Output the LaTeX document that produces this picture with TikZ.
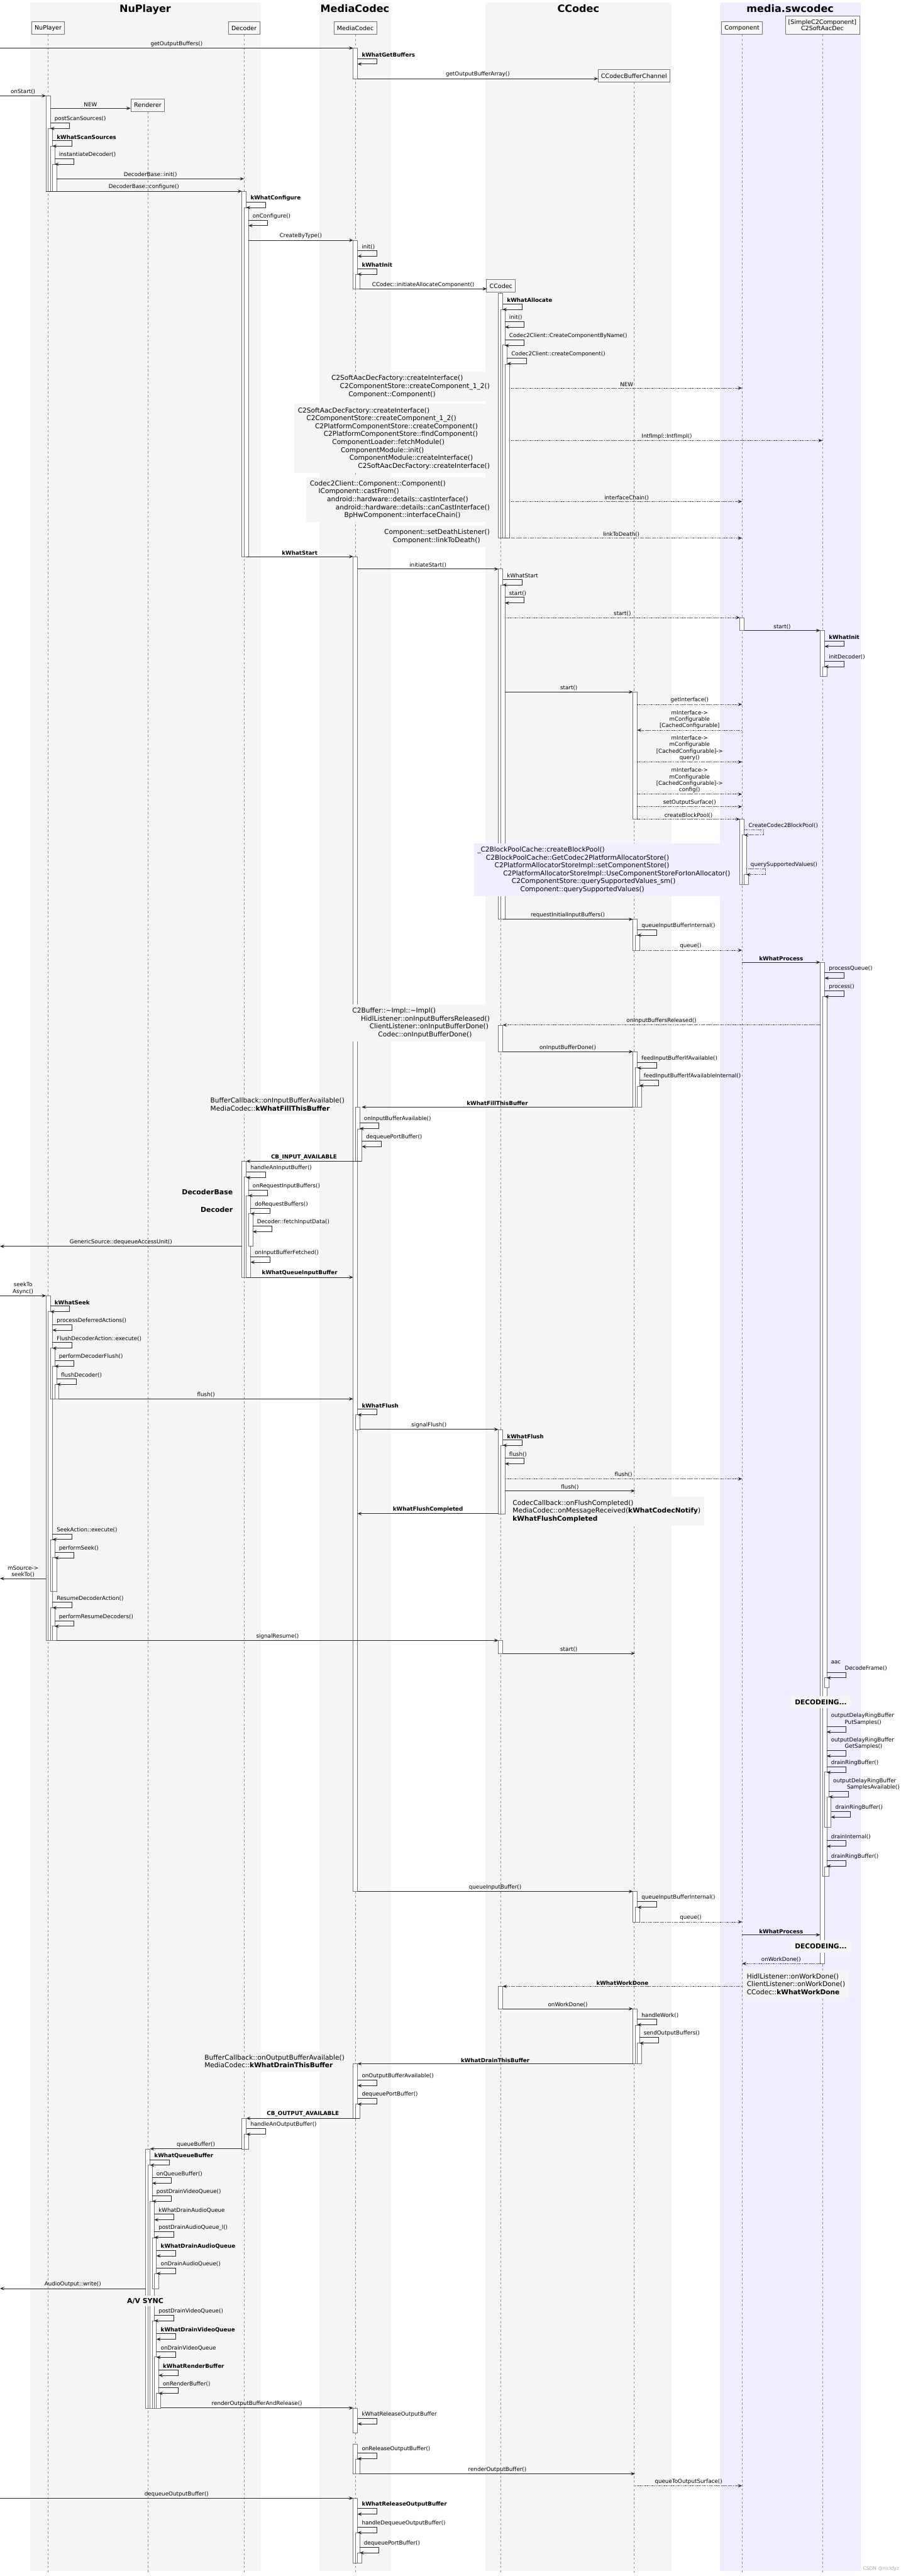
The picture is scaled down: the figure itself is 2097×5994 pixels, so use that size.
\documentclass[tikz,border=0pt]{standalone}
\usepackage{fontspec}
\setmainfont{DejaVu Sans}
\usetikzlibrary{arrows.meta,positioning,calc}
\definecolor{lanegray}{RGB}{245,245,245}
\definecolor{lanelav}{RGB}{238,238,255}
\definecolor{linegray}{RGB}{40,40,40}
\newcommand{\lblfont}{\fontsize{12.8}{15}\selectfont}
\newcommand{\notefont}{\fontsize{15.5}{18.5}\selectfont}
\newcommand{\lane}[3]{\fill[#1] (#2,6) rectangle (#3,5982);}
\newcommand{\actbar}[4]{\draw[actbox] ({#1-5+5*#2},#3) rectangle ({#1+5+5*#2},#4);}
\newcommand{\callmsg}[6][]{\coordinate (#2-a) at (#3,#5); \coordinate (#2-b) at (#4,#5);
  \draw[msg,#1] (#2-a) -- node[lbl]{#6} (#2-b);}
\newcommand{\selfmsg}[5][]{\coordinate (#2) at (#3,#4);
  \draw[msg,#1] (#2) -- ++(45,0) -- ++(0,13) -- ++(-45,0);
  \node[slbl] at (#2) {#5};}
\tikzset{
  lanetitle/.style={font=\fontsize{23.5}{28}\selectfont\bfseries, anchor=base, inner sep=0pt},
  head/.style={draw=black!55, fill=black!3, line width=1.1pt, font=\fontsize{14}{14.5}\selectfont, inner xsep=7pt, inner ysep=0pt, minimum height=29pt, align=center},
  lifeline/.style={draw=black!45, line width=1pt, dash pattern=on 5pt off 5pt},
  actbox/.style={draw=black!55, fill=white, line width=0.8pt},
  msg/.style={draw=linegray, line width=1.1pt, -{Stealth[length=10pt,width=8pt,inset=4pt]}},
  reply/.style={dash pattern=on 2pt off 2pt},
  lbl/.style={font=\lblfont, inner sep=0pt, above=2.8pt, align=center},
  slbl/.style={font=\lblfont, inner sep=0pt, anchor=south west, xshift=10pt, yshift=2.8pt, align=left},
  notebox/.style={fill=lanegray, font=\notefont, align=left, inner xsep=8pt, inner ysep=8pt},
  bigtag/.style={font=\fontsize{16}{19}\selectfont\bfseries, inner sep=0pt},
}
\begin{document}
\begin{tikzpicture}[x=1pt,y=-1pt]
\useasboundingbox (0,0) rectangle (2097,5994);
\lane{lanegray}{70}{607}
\lane{lanegray}{743}{910}
\lane{lanegray}{1130}{1563}
\lane{lanelav}{1675}{2003}
\node[lanetitle] (tnuplayer) at (338,28) {NuPlayer};
\node[lanetitle] (tmediacodec) at (826,28) {MediaCodec};
\node[lanetitle] (tccodec) at (1346,28) {CCodec};
\node[lanetitle] (tswcodec) at (1839,28) {media.swcodec};

\node[head] (nuplayer) at (112,65.5) {NuPlayer};
\node[head] (decoder) at (568,65.5) {Decoder};
\node[head] (mediacodec) at (827,65.5) {MediaCodec};
\node[head] (component) at (1727,65.5) {Component};
\node[head, minimum height=43pt] (aacdec) at (1914,58.5) {[SimpleC2Component]\\C2SoftAacDec};
\node[head] (renderer) at (344,244.5) {Renderer};
\node[head] (bufchannel) at (1475.5,176.5) {CCodecBufferChannel};
\node[head] (ccodec) at (1166,665.5) {CCodec};
\coordinate (foot) at (0,5987);
\draw[lifeline] (nuplayer.south) -- (nuplayer.south |- foot);
\draw[lifeline] (decoder.south) -- (decoder.south |- foot);
\draw[lifeline] (mediacodec.south) -- (mediacodec.south |- foot);
\draw[lifeline] (component.south) -- (component.south |- foot);
\draw[lifeline] (aacdec.south) -- (aacdec.south |- foot);
\draw[lifeline] (renderer.south) -- (renderer.south |- foot);
\draw[lifeline] (bufchannel.south) -- (bufchannel.south |- foot);
\draw[lifeline] (ccodec.south) -- (ccodec.south |- foot);

\actbar{112}{0}{223}{445} \actbar{112}{1}{299}{445} \actbar{112}{2}{340}{445} \actbar{112}{3}{382}{445}
\actbar{112}{0}{3015}{3817} \actbar{112}{1}{3052}{3817} \actbar{112}{2}{3137}{3255} \actbar{112}{3}{3179}{3255} \actbar{112}{4}{3221}{3255}
\actbar{112}{2}{3582}{3703} \actbar{112}{3}{3624}{3703} \actbar{112}{2}{3741}{3817} \actbar{112}{3}{3783}{3817}
\actbar{344}{0}{5000}{5603} \actbar{344}{1}{5038}{5603} \actbar{344}{2}{5122}{5603} \actbar{344}{3}{5207}{5325} \actbar{344}{4}{5291}{5325}
\actbar{344}{3}{5400}{5603} \actbar{344}{4}{5484}{5603} \actbar{344}{5}{5569}{5603}
\actbar{568}{0}{445}{1295} \actbar{568}{1}{483}{1295}
\actbar{568}{0}{2702}{2972} \actbar{568}{1}{2739}{2972} \actbar{568}{2}{2782}{2972} \actbar{568}{3}{2823}{2900}
\actbar{568}{0}{4929}{5000} \actbar{568}{1}{4966}{5000}
\actbar{827}{0}{112}{183}
\actbar{827}{0}{559}{672} \actbar{827}{1}{638}{672}
\actbar{827}{0}{1295}{4401} \actbar{827}{1}{2576}{2702} \actbar{827}{2}{2627}{2702} \actbar{827}{1}{3292}{3326}
\actbar{827}{0}{4802}{4929} \actbar{827}{1}{4896}{4929}
\actbar{827}{0}{5603}{5660} \actbar{827}{0}{5687}{5756} \actbar{827}{1}{5722}{5756}
\actbar{827}{0}{5813}{5963} \actbar{827}{1}{5893}{5963} \actbar{827}{2}{5940}{5963}
\actbar{1165}{0}{683}{1252} \actbar{1165}{1}{720}{1252} \actbar{1165}{2}{803}{1252} \actbar{1165}{3}{847}{1252}
\actbar{1165}{0}{1324}{2139} \actbar{1165}{1}{1362}{2139}
\actbar{1165}{0}{2385}{2447}
\actbar{1165}{0}{3326}{3522} \actbar{1165}{1}{3363}{3522}
\actbar{1165}{0}{3817}{3847}
\actbar{1165}{0}{4622}{4674}
\actbar{1478}{0}{1610}{1906}
\actbar{1478}{0}{2139}{2211} \actbar{1478}{1}{2177}{2211}
\actbar{1478}{0}{2447}{2576} \actbar{1478}{1}{2484}{2576} \actbar{1478}{2}{2527}{2576}
\actbar{1478}{0}{4401}{4472} \actbar{1478}{1}{4438}{4472}
\actbar{1478}{0}{4674}{4802} \actbar{1478}{1}{4712}{4802} \actbar{1478}{2}{4754}{4802}
\actbar{1727}{0}{1437}{1467}
\actbar{1727}{0}{1906}{2058} \actbar{1727}{1}{1943}{2058} \actbar{1727}{2}{2035}{2058}
\actbar{1914}{0}{1467}{1574} \actbar{1914}{1}{1551}{1574}
\actbar{1914}{0}{2239}{4569} \actbar{1914}{1}{2319}{4365} \actbar{1914}{2}{3903}{3927}
\actbar{1914}{2}{4123}{4251} \actbar{1914}{3}{4181}{4251} \actbar{1914}{2}{4343}{4365}

\node[notebox, anchor=north east] (n1) at (1148,865) {C2SoftAacDecFactory::createInterface()\\\hspace*{20pt}C2ComponentStore::createComponent\_1\_2()\\\hspace*{40pt}Component::Component()};
\node[notebox, anchor=north east] (n2) at (1148,940) {C2SoftAacDecFactory::createInterface()\\\hspace*{20pt}C2ComponentStore::createComponent\_1\_2()\\\hspace*{40pt}C2PlatformComponentStore::createComponent()\\\hspace*{60pt}C2PlatformComponentStore::findComponent()\\\hspace*{80pt}ComponentLoader::fetchModule()\\\hspace*{100pt}ComponentModule::init()\\\hspace*{120pt}ComponentModule::createInterface()\\\hspace*{140pt}C2SoftAacDecFactory::createInterface()};
\node[notebox, anchor=north east] (n3) at (1148,1110) {Codec2Client::Component::Component()\\\hspace*{20pt}IComponent::castFrom()\\\hspace*{40pt}android::hardware::details::castInterface()\\\hspace*{60pt}android::hardware::details::canCastInterface()\\\hspace*{80pt}BpHwComponent::interfaceChain()};
\node[notebox, anchor=north east] (n4) at (1148,1223) {Component::setDeathListener()\\\hspace*{20pt}Component::linkToDeath()};
\node[notebox, fill=lanelav, anchor=north east] (n5) at (1708,1962) {\_C2BlockPoolCache::createBlockPool()\\\hspace*{20pt}C2BlockPoolCache::GetCodec2PlatformAllocatorStore()\\\hspace*{40pt}C2PlatformAllocatorStoreImpl::setComponentStore()\\\hspace*{60pt}C2PlatformAllocatorStoreImpl::UseComponentStoreForIonAllocator()\\\hspace*{80pt}C2ComponentStore::querySupportedValues\_sm()\\\hspace*{100pt}Component::querySupportedValues()};
\node[notebox, anchor=north east] (n6) at (1148,2337) {C2Buffer::\textasciitilde{}Impl::\textasciitilde{}Impl()\\\hspace*{20pt}HidlListener::onInputBuffersReleased()\\\hspace*{40pt}ClientListener::onInputBufferDone()\\\hspace*{60pt}Codec::onInputBufferDone()};
\node[notebox, anchor=north east] (n7) at (810,2546) {BufferCallback::onInputBufferAvailable()\\MediaCodec::\textbf{kWhatFillThisBuffer}};
\node[notebox, anchor=north west] (n8) at (1185,3482) {CodecCallback::onFlushCompleted()\\MediaCodec::onMessageReceived(\textbf{kWhatCodecNotify})\\\textbf{kWhatFlushCompleted}};
\node[notebox, anchor=north west] (n9) at (1730,4584) {HidlListener::onWorkDone()\\ClientListener::onWorkDone()\\CCodec::\textbf{kWhatWorkDone}};
\node[notebox, anchor=north east] (n10) at (810,4773) {BufferCallback::onOutputBufferAvailable()\\MediaCodec::\textbf{kWhatDrainThisBuffer}};

\callmsg{m01}{0}{822}{112}{getOutputBuffers()}
\callmsg{m02}{832}{1392}{183}{getOutputBufferArray()}
\callmsg{m03}{0}{107}{223}{onStart()}
\callmsg{m04}{117}{304}{252}{NEW}
\callmsg{m05}{132}{568}{416}{DecoderBase::init()}
\callmsg{m06}{107}{563}{445}{DecoderBase::configure()}
\callmsg{m07}{578}{822}{559}{CreateByType()}
\callmsg{m08}{837}{1133}{672}{CCodec::initiateAllocateComponent()}
\callmsg[reply]{m09}{1190}{1727}{903}{NEW}
\callmsg[reply]{m10}{1190}{1914}{1025}{IntfImpl::IntfImpl()}
\callmsg[reply]{m11}{1190}{1727}{1167}{interfaceChain()}
\callmsg[reply]{m12}{1165}{1727}{1252}{linkToDeath()}
\callmsg{m13}{573}{822}{1295}{\textbf{kWhatStart}}
\callmsg{m14}{832}{1160}{1324}{initiateStart()}
\callmsg[reply]{m15}{1175}{1722}{1437}{start()}
\callmsg{m16}{1732}{1909}{1467}{start()}
\callmsg{m17}{1175}{1473}{1610}{start()}
\callmsg[reply]{m18}{1483}{1727}{1639}{getInterface()}
\callmsg[reply]{m19}{1727}{1483}{1699}{mInterface->\\mConfigurable\\{}[CachedConfigurable]}
\callmsg[reply]{m20}{1483}{1727}{1773}{mInterface->\\mConfigurable\\{}[CachedConfigurable]->\\query()}
\callmsg[reply]{m21}{1483}{1727}{1848}{mInterface->\\mConfigurable\\{}[CachedConfigurable]->\\config()}
\callmsg[reply]{m22}{1483}{1727}{1877}{setOutputSurface()}
\callmsg[reply]{m23}{1483}{1722}{1906}{createBlockPool()}
\callmsg{m24}{1170}{1473}{2139}{requestInitialInputBuffers()}
\callmsg[reply]{m25}{1488}{1727}{2211}{queue()}
\callmsg{m26}{1727}{1909}{2239}{\textbf{kWhatProcess}}
\callmsg[reply]{m27}{1909}{1170}{2385}{onInputBuffersReleased()}
\callmsg{m28}{1170}{1473}{2447}{onInputBufferDone()}
\callmsg{m29}{1473}{842}{2576}{\textbf{kWhatFillThisBuffer}}
\callmsg{m30}{842}{573}{2702}{\textbf{CB\_INPUT\_AVAILABLE}}
\callmsg{m31}{563}{0}{2900}{GenericSource::dequeueAccessUnit()}
\callmsg{m32}{573}{822}{2972}{\textbf{kWhatQueueInputBuffer}}
\callmsg{m33}{0}{107}{3015}{seekTo\\Async()}
\callmsg{m34}{137}{822}{3255}{flush()}
\callmsg{m35}{837}{1160}{3326}{signalFlush()}
\callmsg[reply]{m36}{1175}{1727}{3441}{flush()}
\callmsg{m37}{1175}{1478}{3469}{flush()}
\callmsg{m38}{1160}{832}{3522}{\textbf{kWhatFlushCompleted}}
\callmsg{m39}{107}{0}{3673}{mSource->\\seekTo()}
\callmsg{m40}{132}{1160}{3817}{signalResume()}
\callmsg{m41}{1170}{1478}{3847}{start()}
\callmsg{m42}{832}{1473}{4401}{queueInputBuffer()}
\callmsg[reply]{m43}{1488}{1727}{4472}{queue()}
\callmsg{m44}{1727}{1909}{4502}{\textbf{kWhatProcess}}
\callmsg[reply]{m45}{1909}{1727}{4569}{onWorkDone()}
\callmsg[reply]{m46}{1727}{1170}{4622}{\textbf{kWhatWorkDone}}
\callmsg{m47}{1170}{1473}{4674}{onWorkDone()}
\callmsg{m48}{1473}{832}{4802}{\textbf{kWhatDrainThisBuffer}}
\callmsg{m49}{837}{573}{4929}{\textbf{CB\_OUTPUT\_AVAILABLE}}
\callmsg{m50}{563}{349}{5000}{queueBuffer()}
\callmsg{m51}{339}{0}{5325}{AudioOutput::write()}
\callmsg{m52}{374}{822}{5603}{renderOutputBufferAndRelease()}
\callmsg{m53}{837}{1478}{5756}{renderOutputBuffer()}
\callmsg[reply]{m54}{1478}{1727}{5784}{queueToOutputSurface()}
\callmsg{m55}{0}{822}{5813}{dequeueOutputBuffer()}

\selfmsg{s01}{832}{136}{\textbf{kWhatGetBuffers}}
\selfmsg{s02}{117}{286}{postScanSources()}
\selfmsg{s03}{122}{327}{\textbf{kWhatScanSources}}
\selfmsg{s04}{127}{369}{instantiateDecoder()}
\selfmsg{s05}{573}{470}{\textbf{kWhatConfigure}}
\selfmsg{s06}{578}{512}{onConfigure()}
\selfmsg{s07}{832}{583}{init()}
\selfmsg{s08}{832}{625}{\textbf{kWhatInit}}
\selfmsg{s09}{1170}{707}{\textbf{kWhatAllocate}}
\selfmsg{s10}{1175}{748}{init()}
\selfmsg{s11}{1175}{791}{Codec2Client::CreateComponentByName()}
\selfmsg{s12}{1180}{833}{Codec2Client::createComponent()}
\selfmsg{s13}{1170}{1348}{kWhatStart}
\selfmsg{s14}{1175}{1390}{start()}
\selfmsg{s15}{1919}{1491}{\textbf{kWhatInit}}
\selfmsg{s16}{1919}{1538}{initDecoder()}
\selfmsg[reply]{s17}{1732}{1930}{CreateCodec2BlockPool()}
\selfmsg[reply]{s18}{1737}{2022}{querySupportedValues()}
\selfmsg{s19}{1483}{2163}{queueInputBufferInternal()}
\selfmsg{s20}{1919}{2263}{processQueue()}
\selfmsg{s21}{1919}{2306}{process()}
\selfmsg{s22}{1483}{2472}{feedInputBufferIfAvailable()}
\selfmsg{s23}{1488}{2513}{feedInputBufferIfAvailableInternal()}
\selfmsg{s24}{837}{2613}{onInputBufferAvailable()}
\selfmsg{s25}{842}{2655}{dequeuePortBuffer()}
\selfmsg{s26}{573}{2727}{handleAnInputBuffer()}
\selfmsg{s27}{578}{2769}{onRequestInputBuffers()}
\selfmsg{s28}{583}{2811}{doRequestBuffers()}
\selfmsg{s29}{588}{2853}{Decoder::fetchInputData()}
\selfmsg{s30}{583}{2924}{onInputBufferFetched()}
\selfmsg{s31}{117}{3039}{\textbf{kWhatSeek}}
\selfmsg{s32}{122}{3082}{processDeferredActions()}
\selfmsg{s33}{122}{3124}{FlushDecoderAction::execute()}
\selfmsg{s34}{127}{3166}{performDecoderFlush()}
\selfmsg{s35}{132}{3208}{flushDecoder()}
\selfmsg{s36}{832}{3279}{\textbf{kWhatFlush}}
\selfmsg{s37}{1170}{3350}{\textbf{kWhatFlush}}
\selfmsg{s38}{1175}{3393}{flush()}
\selfmsg{s39}{122}{3569}{SeekAction::execute()}
\selfmsg{s40}{127}{3612}{performSeek()}
\selfmsg{s41}{122}{3728}{ResumeDecoderAction()}
\selfmsg{s42}{127}{3771}{performResumeDecoders()}
\selfmsg{s43}{1924}{3891}{aac\\\hspace*{32pt}DecodeFrame()}
\selfmsg{s44}{1924}{4017}{outputDelayRingBuffer\\\hspace*{32pt}PutSamples()}
\selfmsg{s45}{1924}{4073}{outputDelayRingBuffer\\\hspace*{32pt}GetSamples()}
\selfmsg{s46}{1924}{4111}{drainRingBuffer()}
\selfmsg{s47}{1929}{4168}{outputDelayRingBuffer\\\hspace*{32pt}SamplesAvailable()}
\selfmsg{s48}{1934}{4215}{drainRingBuffer()}
\selfmsg{s49}{1924}{4283}{drainInternal()}
\selfmsg{s50}{1924}{4329}{drainRingBuffer()}
\selfmsg{s51}{1483}{4425}{queueInputBufferInternal()}
\selfmsg{s52}{1483}{4698}{handleWork()}
\selfmsg{s53}{1488}{4741}{sendOutputBuffers()}
\selfmsg{s54}{832}{4840}{onOutputBufferAvailable()}
\selfmsg{s55}{832}{4883}{dequeuePortBuffer()}
\selfmsg{s56}{573}{4953}{handleAnOutputBuffer()}
\selfmsg{s57}{349}{5025}{\textbf{kWhatQueueBuffer}}
\selfmsg{s58}{354}{5067}{onQueueBuffer()}
\selfmsg{s59}{354}{5109}{postDrainVideoQueue()}
\selfmsg{s60}{359}{5152}{kWhatDrainAudioQueue}
\selfmsg{s61}{359}{5193}{postDrainAudioQueue\_l()}
\selfmsg{s62}{364}{5236}{\textbf{kWhatDrainAudioQueue}}
\selfmsg{s63}{364}{5277}{onDrainAudioQueue()}
\selfmsg{s64}{359}{5387}{postDrainVideoQueue()}
\selfmsg{s65}{364}{5430}{\textbf{kWhatDrainVideoQueue}}
\selfmsg{s66}{364}{5472}{onDrainVideoQueue}
\selfmsg{s67}{369}{5514}{\textbf{kWhatRenderBuffer}}
\selfmsg{s68}{369}{5556}{onRenderBuffer()}
\selfmsg{s69}{832}{5627}{kWhatReleaseOutputBuffer}
\selfmsg{s70}{832}{5708}{onReleaseOutputBuffer()}
\selfmsg{s71}{832}{5837}{\textbf{kWhatReleaseOutputBuffer}}
\selfmsg{s72}{832}{5880}{handleDequeueOutputBuffer()}
\selfmsg{s73}{837}{5927}{dequeuePortBuffer()}

\node[bigtag, anchor=east] (tagbase) at (542,2773) {DecoderBase};
\node[bigtag, anchor=east] (tagdecoder) at (542,2815) {Decoder};
\node[fill=lanegray, font=\fontsize{15.5}{18}\selectfont\bfseries, minimum width=139pt, minimum height=28pt, inner sep=0pt] (decoding1) at (1910.5,3961) {DECODEING...};
\node[fill=lanegray, font=\fontsize{15.5}{18}\selectfont\bfseries, minimum width=139pt, minimum height=28pt, inner sep=0pt] (decoding2) at (1910.5,4529) {DECODEING...};
\node[bigtag, fill=lanegray, inner xsep=8pt, inner ysep=6pt] (avsync) at (338,5354) {A/V SYNC};
\node[font=\fontsize{11}{13}\selectfont, text=black!35, anchor=east, inner sep=0pt] (mark) at (2093,5977) {CSDN @nickfyz};
\end{tikzpicture}
\end{document}
